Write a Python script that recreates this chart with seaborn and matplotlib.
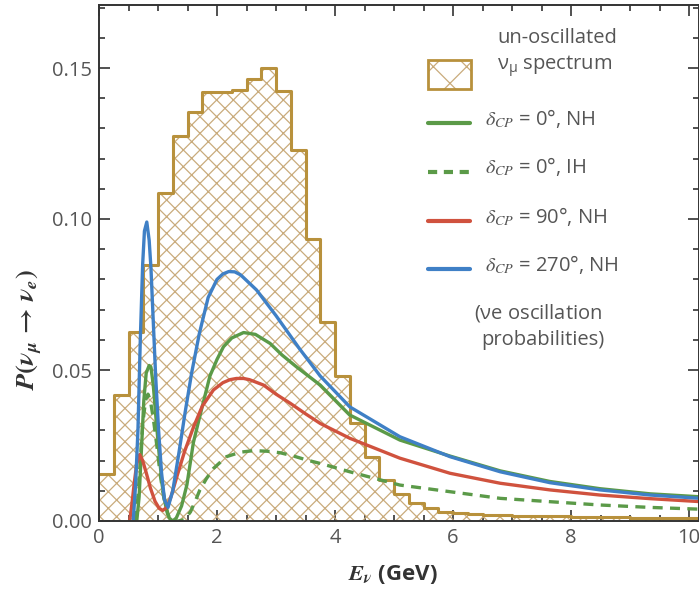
import numpy as np
import pandas as pd
import matplotlib
matplotlib.use('Agg')
import matplotlib.pyplot as plt
from matplotlib.patches import Rectangle
import seaborn as sns

sns.set_style('ticks')
plt.rcParams['font.family'] = ['Open Sans', 'DejaVu Sans']
plt.rcParams['mathtext.fontset'] = 'stix'
plt.rcParams['hatch.linewidth'] = 0.9

# un-oscillated numu spectrum, 0.25 GeV bins
bin_edges = [round(0.25 * i, 2) for i in range(42)]
spectrum = [0.0155, 0.0417, 0.0627, 0.0848, 0.1085, 0.1276, 0.1353, 0.1420,
            0.1420, 0.1427, 0.1464, 0.1501, 0.1424, 0.1228, 0.0933, 0.0660,
            0.0480, 0.0326, 0.0213, 0.0136, 0.0088, 0.0059, 0.0042, 0.0031,
            0.0026, 0.0023, 0.0020, 0.0019, 0.0018, 0.0017, 0.0016, 0.0015,
            0.0014, 0.0013, 0.0012, 0.0012, 0.0011, 0.0011, 0.0010, 0.0010,
            0.0009]

# delta_CP = 0, NH
e_green = [0.64, 0.68, 0.72, 0.76, 0.80, 0.85, 0.88, 0.92, 0.97, 1.02, 1.07,
           1.13, 1.19, 1.25, 1.31, 1.40, 1.49, 1.60, 1.70, 1.88, 2.00, 2.11,
           2.25, 2.45, 2.65, 2.90, 3.10, 3.35, 3.75, 4.25, 5.10, 5.95, 6.80,
           7.64, 8.49, 9.34, 10.2]
p_green = [0.0, 0.008, 0.024, 0.040, 0.049, 0.0515, 0.051, 0.045, 0.033, 0.022,
           0.012, 0.005, 0.001, 0.0, 0.001, 0.005, 0.012, 0.026, 0.034, 0.048,
           0.0535, 0.0577, 0.0606, 0.0624, 0.0618, 0.0588, 0.055, 0.051,
           0.045, 0.0351, 0.0268, 0.0215, 0.0166, 0.0131, 0.0107, 0.0090,
           0.0080]

# delta_CP = 0, IH
e_dash = [0.62, 0.66, 0.70, 0.74, 0.79, 0.83, 0.87, 0.92, 0.98, 1.04, 1.10,
          1.16, 1.22, 1.35, 1.45, 1.55, 1.63, 1.71, 1.82, 1.94, 2.16, 2.40,
          2.62, 2.85, 3.07, 3.30, 3.52, 3.80, 4.25, 5.10, 5.95, 6.80, 7.64,
          8.49, 9.34, 10.2]
p_dash = [0.0, 0.008, 0.020, 0.032, 0.040, 0.042, 0.040, 0.034, 0.025, 0.015,
          0.0075, 0.0025, 0.0, 0.0, 0.0005, 0.003, 0.0065, 0.0103, 0.014,
          0.0174, 0.0213, 0.0228, 0.0233, 0.0231, 0.0226, 0.0215, 0.0202,
          0.0188, 0.0163, 0.0119, 0.0097, 0.0075, 0.0064, 0.0053, 0.0045,
          0.0039]

# delta_CP = 90, NH
e_red = [0.52, 0.56, 0.60, 0.64, 0.69, 0.74, 0.80, 0.87, 0.95, 1.02, 1.08,
         1.15, 1.22, 1.32, 1.45, 1.60, 1.75, 1.94, 2.10, 2.22, 2.33, 2.45,
         2.55, 2.79, 3.00, 3.24, 3.50, 3.75, 4.25, 5.10, 5.95, 6.80, 7.64,
         8.49, 9.34, 10.2]
p_red = [0.0, 0.006, 0.013, 0.019, 0.022, 0.020, 0.016, 0.011, 0.0065, 0.0042,
         0.0035, 0.0045, 0.008, 0.0147, 0.023, 0.031, 0.038, 0.0434, 0.0458,
         0.0468, 0.0472, 0.0472, 0.0468, 0.045, 0.042, 0.039, 0.0355, 0.0323,
         0.0274, 0.0208, 0.0158, 0.0125, 0.0103, 0.0086, 0.0074, 0.0064]

# delta_CP = 270, NH
e_blue = [0.58, 0.62, 0.66, 0.70, 0.74, 0.77, 0.81, 0.85, 0.88, 0.92, 0.96,
          1.01, 1.06, 1.11, 1.17, 1.25, 1.35, 1.46, 1.57, 1.70, 1.85, 2.00,
          2.10, 2.20, 2.30, 2.40, 2.67, 3.00, 3.40, 3.75, 4.25, 5.10, 5.95,
          6.80, 7.64, 8.49, 9.34, 10.2]
p_blue = [0.0, 0.012, 0.030, 0.060, 0.085, 0.096, 0.099, 0.093, 0.084, 0.066,
          0.048, 0.030, 0.016, 0.007, 0.0045, 0.010, 0.022, 0.036, 0.049,
          0.062, 0.074, 0.080, 0.0818, 0.0826, 0.0825, 0.0815, 0.0765, 0.068,
          0.057, 0.048, 0.0378, 0.0279, 0.0213, 0.0163, 0.0127, 0.0103,
          0.0086, 0.0075]

gold = '#b8913c'
hatch_col = '#c9ab7c'
green = '#5b9a48'
red = '#d0523e'
blue = '#3f80c6'
txt = '#555555'

fig = plt.figure(figsize=(6.99, 5.91), dpi=100)
ax = fig.add_axes([99 / 699, 70 / 591, 600 / 699, 516 / 591])

centers = [b + 0.125 for b in bin_edges[:-1]]
hist_df = pd.DataFrame({'E': centers, 'w': spectrum})
sns.histplot(data=hist_df, x='E', weights='w', bins=bin_edges, element='step',
             fill=True, color=hatch_col, facecolor='none', edgecolor=hatch_col,
             hatch='xx', linewidth=0, ax=ax)
sns.histplot(data=hist_df, x='E', weights='w', bins=bin_edges, element='step',
             fill=False, color=gold, linewidth=2.2, ax=ax)

lw = 2.4
sns.lineplot(x=e_green, y=p_green, color=green, lw=lw, ax=ax)
sns.lineplot(x=e_dash, y=p_dash, color=green, lw=lw, ls=(0, (3, 2.2)), ax=ax)
sns.lineplot(x=e_red, y=p_red, color=red, lw=lw, ax=ax)
sns.lineplot(x=e_blue, y=p_blue, color=blue, lw=lw, ax=ax)

ax.set_xlim(0, 600 / 59)
ax.set_ylim(0, 516 / 3020)
ax.set_xticks([0, 2, 4, 6, 8, 10])
ax.set_xticks(np.arange(0, 10.5, 0.5), minor=True)
ax.set_yticks([0, 0.05, 0.10, 0.15])
ax.set_yticklabels(['0.00', '0.05', '0.10', '0.15'])
ax.set_yticks(np.arange(0, 0.171, 0.01), minor=True)
ax.tick_params(which='both', direction='in', top=True, right=True,
               color='#333333', labelcolor=txt, labelsize=14.5, width=1.2)
ax.tick_params(which='major', length=8, pad=5)
ax.tick_params(which='minor', length=4)
for s in ax.spines.values():
    s.set_color('#333333')
    s.set_linewidth(1.4)

ax.set_xlabel(r'$\mathbfit{E}_{\mathbfit{\nu}}$ (GeV)', fontsize=16,
              fontweight='bold', color='#333333')
ax.set_ylabel(r'$\mathbfit{P}\mathbf{(}\mathbfit{\nu}_{\mathbfit{\mu}}'
              r'\,\mathbf{\rightarrow}\,\mathbfit{\nu}_{\mathbfit{e}}\mathbf{)}$',
              fontsize=19, color='#333333')
ax.xaxis.set_label_coords(0.49, -0.082)
ax.yaxis.set_label_coords(-0.09, 0.37)


# legend drawn by hand, positions in axes fraction
def axpt(px, py):
    return (px - 99) / 600, (521 - py) / 516


fs = 14.5
x0, y0 = axpt(428, 89)
x1, y1 = axpt(471, 60)
ax.add_patch(Rectangle((x0, y0), x1 - x0, y1 - y0, transform=ax.transAxes,
                       facecolor='white', edgecolor=hatch_col, hatch='x',
                       lw=0, clip_on=False, zorder=5))
ax.add_patch(Rectangle((x0, y0), x1 - x0, y1 - y0, transform=ax.transAxes,
                       facecolor='none', edgecolor=gold, lw=2, clip_on=False,
                       zorder=6))
ax.text(*axpt(497, 38), 'un-oscillated', transform=ax.transAxes, fontsize=fs,
        color=txt, va='center', ha='left')
ax.text(*axpt(497, 66), r'$\mathregular{\nu_\mu}$ spectrum', transform=ax.transAxes,
        fontsize=fs, color=txt, va='center', ha='left')

entries = [(123, green, '-', r'$\delta_{CP}$ = 0°, NH'),
           (172, green, (0, (2.2, 1.6)), r'$\delta_{CP}$ = 0°, IH'),
           (221, red, '-', r'$\delta_{CP}$ = 90°, NH'),
           (269, blue, '-', r'$\delta_{CP}$ = 270°, NH')]
for py, c, ls, lab in entries:
    xa, ya = axpt(428, py)
    xb, _ = axpt(470, py)
    ax.plot([xa, xb], [ya, ya], color=c, lw=3, ls=ls, transform=ax.transAxes,
            clip_on=False)
    ax.text(*axpt(485, py - 5), lab, transform=ax.transAxes, fontsize=fs,
            color=txt, va='center', ha='left')

ax.text(*axpt(538, 313), r'($\mathregular{\nu e}$ oscillation',
        transform=ax.transAxes, fontsize=fs, color=txt, va='center', ha='center')
ax.text(*axpt(543, 340), 'probabilities)', transform=ax.transAxes,
        fontsize=fs, color=txt, va='center', ha='center')

fig.savefig('out.png', dpi=100)
